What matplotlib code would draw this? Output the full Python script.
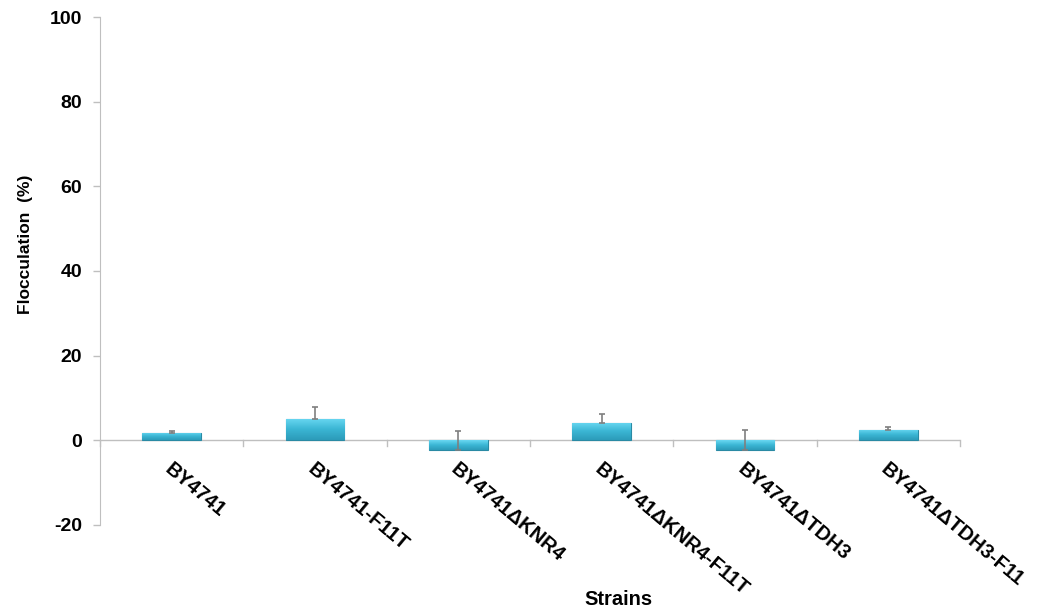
import numpy as np
import matplotlib
matplotlib.use("Agg")
import matplotlib.pyplot as plt
from matplotlib.colors import LinearSegmentedColormap

strains = ["BY4741", "BY4741-F11T", "BY4741\u0394KNR4", "BY4741\u0394KNR4-F11T",
           "BY4741\u0394TDH3", "BY4741\u0394TDH3-F11"]
flocculation = [1.7, 5.1, -2.2, 4.1, -2.2, 2.5]
flocculation_err = [0.5, 2.8, 4.3, 2.0, 4.6, 0.6]
y_ticks = [-20, 0, 20, 40, 60, 80, 100]

plt.rcParams['font.family'] = ['Liberation Sans', 'DejaVu Sans']

fig = plt.figure(figsize=(10.43, 6.12), dpi=100)
ax = fig.add_axes([0.0959, 0.1422, 0.8245, 0.83])

x = np.arange(len(strains))
bars = ax.bar(x, flocculation, width=0.41, color='#38B3D1', edgecolor='#2A8AA4',
              linewidth=0.8, zorder=2)

# vertical shading inside each bar
grad = np.linspace(0, 1, 64).reshape(-1, 1)
cmap = LinearSegmentedColormap.from_list("bar", ["#6AD8F2", "#3BB6D4", "#2C9BB9"])
for b in bars:
    x0, y0 = b.get_x(), b.get_y()
    w, h = b.get_width(), b.get_height()
    ylo, yhi = min(y0, y0 + h), max(y0, y0 + h)
    im = ax.imshow(grad, cmap=cmap, aspect='auto', origin='upper',
                   extent=(x0, x0 + w, ylo, yhi), zorder=2.1, interpolation='bilinear')
    im.set_clip_path(b)

ax.errorbar(x, flocculation, yerr=[np.zeros(len(x)), flocculation_err], fmt='none',
            ecolor='#7F7F7F', elinewidth=1.2, capsize=2.5, capthick=1.2, zorder=3)

ax.set_xlim(-0.5, len(strains) - 0.5)
ax.set_ylim(-20, 100)
ax.set_yticks(y_ticks)
ax.set_yticklabels([str(v) for v in y_ticks], fontsize=14, fontweight='bold')

for s in ['top', 'right', 'bottom']:
    ax.spines[s].set_visible(False)
ax.spines['left'].set_color('#BFBFBF')
ax.axhline(0, color='#BFBFBF', linewidth=1.0, zorder=1)

# category boundary ticks hanging below the zero line
ax.set_xticks([])
for xb in np.arange(-0.5, len(strains), 1.0):
    ax.plot([xb, xb], [0, -1.3], color='#BFBFBF', linewidth=1.0, clip_on=False, zorder=1)

ax.tick_params(axis='y', colors='#BFBFBF', labelcolor='black', length=5, width=1.0, pad=8)

for xi, name in zip(x, strains):
    ax.annotate(name, xy=(xi, 0), xycoords=('data', 'data'), xytext=(1, -14),
                textcoords='offset points', rotation=-40, rotation_mode='anchor',
                ha='left', va='top', fontsize=14.5, fontweight='bold')

fig.text(0.593, 0.021, "Strains", ha='center', va='center', fontsize=14.5, fontweight='bold')
fig.text(0.024, 0.60, "Flocculation  (%)", ha='center', va='center', rotation=90,
         fontsize=12.5, fontweight='bold')

fig.savefig("out.png", dpi=100)
